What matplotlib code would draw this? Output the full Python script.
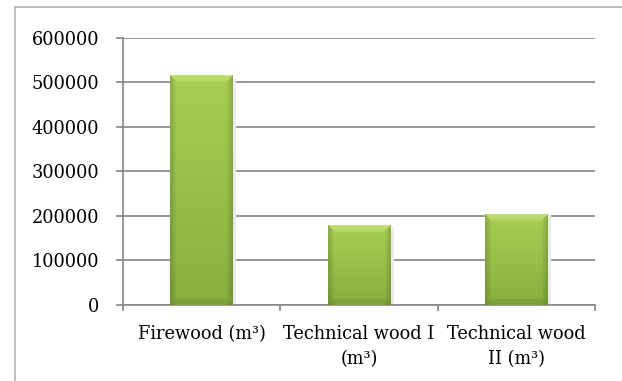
"""
Wood volume bar chart (Excel style, green bevelled bars)
"""

import numpy as np
import matplotlib
matplotlib.use("Agg")
import matplotlib.pyplot as plt
from matplotlib.patches import Rectangle
from matplotlib.colors import to_rgb

# data
categories = ["Firewood (m³)", "Technical wood I\n(m³)", "Technical wood\nII (m³)"]
volumes = [515000, 178000, 204500]
y_ticks = [0, 100000, 200000, 300000, 400000, 500000, 600000]

W, H = 622, 381
DPI = 100

plt.rcParams['font.family'] = ['DejaVu Serif']
plt.rcParams['font.size'] = 12.8

fig = plt.figure(figsize=(W / DPI, H / DPI), dpi=DPI)
ax = fig.add_axes([123 / W, 1 - 304.5 / H, (595 - 123) / W, (304.5 - 37.6) / H])

grid_col = "#868686"

x = np.arange(len(categories))
bars = ax.bar(x, volumes, width=0.4, color="#9cc64a", zorder=3, linewidth=0)

ax.set_xlim(-0.5, len(categories) - 0.5)
ax.set_ylim(0, 600000)
fig.canvas.draw()


def bar_image(w_px, h_px):
    # vertical gradient with bevelled edges
    h_px = max(int(round(h_px)), 2)
    w_px = max(int(round(w_px)), 2)
    yy, xx = np.mgrid[0:h_px, 0:w_px]
    top = np.array(to_rgb("#a8cf52"))
    bot = np.array(to_rgb("#88ae3e"))
    t = (yy / (h_px - 1))[..., None]
    img = top * (1 - t) + bot * t
    bev = 7
    light = np.array(to_rgb("#c6e57a"))
    # top bevel (trapezoid, fading downward)
    mt = ((yy < bev) & (xx >= yy) & (xx <= w_px - 1 - yy))[..., None]
    f = (1 - yy / bev)[..., None] * 0.5 + 0.3
    img = np.where(mt, light * f + img * (1 - f), img)
    # side edges darker, graded
    d = np.minimum(xx, w_px - 1 - xx)
    side = ((d < 6) & (yy >= d))[..., None]
    shade = (0.84 + 0.025 * d)[..., None]
    img = np.where(side, img * shade, img)
    # bottom bevel
    db = h_px - 1 - yy
    bm = ((db < 6) & (d >= db))[..., None]
    img = np.where(bm, img * 0.93, img)
    return np.clip(img, 0, 1)


for b in bars:
    x0, w, h = b.get_x(), b.get_width(), b.get_height()
    p0 = ax.transData.transform((x0, 0))
    p1 = ax.transData.transform((x0 + w, h))
    img = bar_image(p1[0] - p0[0], p1[1] - p0[1])
    im = ax.imshow(img, extent=(x0, x0 + w, 0, h), aspect="auto", zorder=4,
                   interpolation="bilinear")
    im.set_clip_path(b)
    # soft shadow on right side
    ax.add_patch(Rectangle((x0 + w, 0), w * 0.05, h * 0.985, color="#ebebeb",
                           zorder=2, linewidth=0))

ax.set_xlim(-0.5, len(categories) - 0.5)
ax.set_ylim(0, 600000)

ax.set_yticks(y_ticks)
ax.set_yticklabels([str(v) for v in y_ticks])
ax.set_xticks(x)
ax.set_xticklabels(categories, linespacing=1.5)
ax.set_xticks(np.arange(-0.5, len(categories)), minor=True)

ax.yaxis.grid(True, color=grid_col, linewidth=1.2, zorder=1)
ax.set_axisbelow(True)
for s in ["top", "right"]:
    ax.spines[s].set_visible(False)
for s in ["left", "bottom"]:
    ax.spines[s].set_color(grid_col)
    ax.spines[s].set_linewidth(1.2)

ax.tick_params(axis="y", direction="out", length=5, width=1.2, color=grid_col, pad=12)
ax.tick_params(axis="x", which="major", length=0, pad=15)
ax.tick_params(axis="x", which="minor", direction="out", length=4, width=1.2, color=grid_col)

# outer chart border (cropped on right/bottom)
fig.add_artist(Rectangle((15 / W, -0.1), 1.2, 1.1 - 7 / H, transform=fig.transFigure,
                         fill=False, edgecolor="#b4b4b4", linewidth=1.2))

fig.savefig("out.png", dpi=DPI)
